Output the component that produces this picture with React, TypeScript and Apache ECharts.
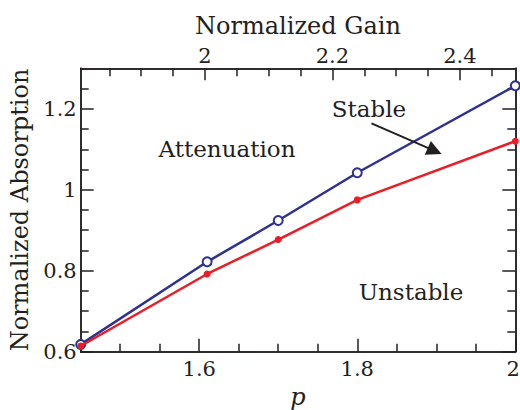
import React, { useEffect, useRef } from "react";
import * as echarts from "echarts";

const P = [1.45, 1.61, 1.7, 1.8, 2.0];
const BLUE = [0.618, 0.822, 0.924, 1.042, 1.257];
const RED = [0.614, 0.792, 0.877, 0.975, 1.12];

const P_RANGE = [1.45, 2.0];
const P_MAJOR = [1.6, 1.8, 2];
const P_MINOR = [1.5, 1.55, 1.65, 1.7, 1.75, 1.85, 1.9, 1.95];

const GAIN_RANGE = [1.805, 2.487];
const GAIN_MAJOR = [2, 2.2, 2.4];
const GAIN_MINOR = [1.85, 1.9, 1.95, 2.05, 2.1, 2.15, 2.25, 2.3, 2.35, 2.45];

const Y_RANGE = [0.6, 1.3];
const Y_MAJOR = [0.6, 0.8, 1, 1.2];
const Y_MINOR = [0.65, 0.7, 0.75, 0.85, 0.9, 0.95, 1.05, 1.1, 1.15, 1.25];

const ARROW_FROM = [1.818, 1.164];
const ARROW_TO = [1.898, 1.096];

const FONT = "DejaVu Serif";
const INK = "#231f20";
const BLUE_C = "#2e3192";
const RED_C = "#ed1c24";

function tickAxis(opts: any) {
  const { position, range, values, length, labels, name, nameGap, nameStyle, labelMargin, edgeLabel } = opts;
  const label: any = labels
    ? { show: true, customValues: labels, fontFamily: FONT, fontSize: 21, color: INK, margin: labelMargin }
    : { show: false };
  if (labels && edgeLabel) {
    label.formatter = (v: number) => (v === range[1] ? "{e|" + v + "}" : String(v));
    label.rich = { e: { fontFamily: FONT, fontSize: 21, color: INK, padding: [0, 4, 0, 0] } };
  }
  return {
    type: "value",
    position,
    min: range[0],
    max: range[1],
    gridIndex: 0,
    axisLine: { show: true, onZero: false, lineStyle: { color: INK, width: 1.5 } },
    axisTick: { show: true, inside: true, length, customValues: values, lineStyle: { color: INK, width: 1.5 } },
    axisLabel: label,
    splitLine: { show: false },
    name: name || "",
    nameLocation: "middle",
    nameGap: nameGap || 0,
    nameTextStyle: nameStyle || {},
  };
}

export default function App() {
  const ref = useRef<HTMLDivElement>(null);
  useEffect(() => {
    if (!ref.current) return;
    const chart = echarts.init(ref.current, null, { renderer: "svg" });
    const ann = (text: string, x: number, y: number) => ({
      type: "text", x, y,
      style: { text, fontFamily: FONT, fontSize: 23, fill: INK, textAlign: "center", textVerticalAlign: "middle" },
    });
    chart.setOption({
      animation: false,
      backgroundColor: "#ffffff",
      textStyle: { fontFamily: FONT },
      grid: { left: 80.7, right: 4.7, top: 68.3, bottom: 58.3, containLabel: false, outerBoundsMode: "none" },
      xAxis: [
        tickAxis({
          position: "bottom", range: P_RANGE, values: P_MAJOR, length: 13, labels: P_MAJOR, labelMargin: 7,
          name: "p", nameGap: 32, edgeLabel: true,
          nameStyle: { fontFamily: FONT, fontSize: 24, fontStyle: "italic", color: INK },
        }),
        tickAxis({ position: "bottom", range: P_RANGE, values: P_MINOR, length: 8 }),
        tickAxis({
          position: "top", range: GAIN_RANGE, values: GAIN_MAJOR, length: 12, labels: GAIN_MAJOR, labelMargin: 2,
          name: "Normalized Gain", nameGap: 30,
          nameStyle: { fontFamily: FONT, fontSize: 24, color: INK },
        }),
        tickAxis({ position: "top", range: GAIN_RANGE, values: GAIN_MINOR, length: 8 }),
      ],
      yAxis: [
        tickAxis({
          position: "left", range: Y_RANGE, values: Y_MAJOR, length: 13, labels: Y_MAJOR, labelMargin: 4,
          name: "Normalized Absorption", nameGap: 46,
          nameStyle: { fontFamily: FONT, fontSize: 24, color: INK },
        }),
        tickAxis({ position: "left", range: Y_RANGE, values: Y_MINOR, length: 8 }),
        tickAxis({ position: "right", range: Y_RANGE, values: Y_MAJOR, length: 13 }),
        tickAxis({ position: "right", range: Y_RANGE, values: Y_MINOR, length: 8 }),
      ],
      series: [
        {
          type: "line",
          xAxisIndex: 0,
          yAxisIndex: 0,
          data: P.map((p, i) => [p, BLUE[i]]),
          lineStyle: { color: BLUE_C, width: 2.5 },
          symbol: "emptyCircle",
          symbolSize: 9,
          itemStyle: { color: BLUE_C, borderColor: BLUE_C, borderWidth: 2 },
          z: 3,
          markLine: {
            silent: true,
            symbol: ["none", "triangle"],
            symbolSize: [15, 15],
            label: { show: false },
            lineStyle: { color: INK, width: 2, type: "solid" },
            data: [[{ coord: ARROW_FROM }, { coord: ARROW_TO }]],
          },
        },
        {
          type: "line",
          xAxisIndex: 0,
          yAxisIndex: 0,
          data: P.map((p, i) => [p, RED[i]]),
          lineStyle: { color: RED_C, width: 2.5 },
          symbol: "circle",
          symbolSize: 7,
          itemStyle: { color: RED_C },
          z: 4,
        },
      ],
      graphic: [
        ann("Attenuation", 227, 149),
        ann("Stable", 369, 109),
        ann("Unstable", 411, 292),
      ],
    });
    return () => chart.dispose();
  }, []);
  return <div ref={ref} style={{ position: "absolute", left: 0, top: 0, width: 520, height: 410 }} />;
}
